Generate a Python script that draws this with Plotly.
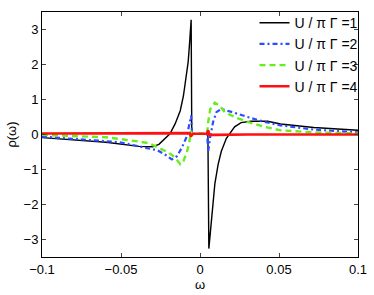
import plotly.graph_objects as go

# U/piGamma = 1 (black)
w1 = [-0.1, -0.08, -0.0595, -0.0386, -0.030, -0.026, -0.022, -0.019, -0.0157, -0.0125,
      -0.0105, -0.0088, -0.0075, -0.0067, -0.0061, -0.0056, -0.0052, 0.0, 0.0050, 0.0056,
      0.0065, 0.0073, 0.0083, 0.0094, 0.0115, 0.0135, 0.0167, 0.0188, 0.0219, 0.026,
      0.0323, 0.0428, 0.051, 0.072, 0.1]
r1 = [-0.09, -0.15, -0.22, -0.34, -0.35, -0.28, -0.12, 0.02, 0.31, 0.68,
      1.10, 1.61, 2.07, 2.54, 3.0, 3.28, 0.02, 0.02, 0.02, -3.26,
      -2.8, -2.43, -1.87, -1.41, -0.85, -0.48, -0.11, 0.03, 0.22, 0.34,
      0.38, 0.38, 0.3, 0.2, 0.12]

# U/piGamma = 2 (blue)
w2 = [-0.1, -0.076, -0.051, -0.0344, -0.027, -0.022, -0.0178, -0.0146, -0.0115, -0.0084,
      -0.0069, -0.0056, -0.0050, 0.0, 0.0045, 0.0052, 0.0063, 0.0083, 0.0104, 0.0135,
      0.0177, 0.024, 0.0302, 0.0407, 0.051, 0.072, 0.1]
r2 = [-0.06, -0.13, -0.22, -0.38, -0.45, -0.58, -0.71, -0.62, -0.38, -0.06,
      0.22, 0.54, 0.02, 0.02, 0.02, -0.48, -0.11, 0.36, 0.64, 0.73,
      0.68, 0.59, 0.50, 0.36, 0.26, 0.14, 0.06]

# U/piGamma = 3 (green)
w3 = [-0.1, -0.0595, -0.0386, -0.0324, -0.0261, -0.0198, -0.0157, -0.0125, -0.0105, -0.0084,
      -0.0069, -0.0056, -0.0050, 0.0, 0.0045, 0.0052, 0.0065, 0.0094, 0.0125, 0.0157,
      0.0219, 0.0302, 0.0407, 0.051, 0.072, 0.1]
r3 = [-0.01, -0.08, -0.2, -0.25, -0.38, -0.52, -0.66, -0.85, -0.76, -0.52,
      -0.25, 0.1, 0.02, 0.02, 0.02, 0.36, 0.73, 0.91, 0.82, 0.64,
      0.50, 0.36, 0.22, 0.12, 0.06, 0.03]

# U/piGamma = 4 (red)
w4 = [-0.1, -0.05, -0.0105, -0.0066, -0.0058, -0.0052, -0.0045, 0.0, 0.0044, 0.0052,
      0.0060, 0.0090, 0.03, 0.1]
r4 = [0.03, 0.04, 0.05, 0.04, -0.06, 0.0, 0.02, 0.02, 0.02, 0.12,
      -0.01, -0.01, 0.0, 0.0]

labels = ["U / \u03c0 \u0393 =1", "U / \u03c0 \u0393 =2", "U / \u03c0 \u0393 =3", "U / \u03c0 \u0393 =4"]
x_ticks = [-0.1, -0.05, 0, 0.05, 0.1]
x_ticktext = ["\u22120.1", "\u22120.05", "0", "0.05", "0.1"]
y_ticks = [-3, -2, -1, 0, 1, 2, 3]
y_ticktext = ["\u22123", "\u22122", "\u22121", "0", "1", "2", "3"]

fig = go.Figure()
fig.add_trace(go.Scatter(x=w1, y=r1, mode="lines", name=labels[0],
                         line=dict(color="black", width=1.4)))
fig.add_trace(go.Scatter(x=w2, y=r2, mode="lines", name=labels[1],
                         line=dict(color="#2a4cff", width=2.2, dash="5px,3px,2px,3px")))
fig.add_trace(go.Scatter(x=w3, y=r3, mode="lines", name=labels[2],
                         line=dict(color="#66ee1a", width=2.4, dash="6px,4px")))
fig.add_trace(go.Scatter(x=w4, y=r4, mode="lines", name=labels[3],
                         line=dict(color="#ff1010", width=2.6)))

font = dict(family="Liberation Sans, Arial, sans-serif", size=13, color="black")
fig.update_layout(
    width=374, height=295,
    margin=dict(l=42, r=12, t=7, b=35),
    paper_bgcolor="white", plot_bgcolor="white",
    font=font,
    showlegend=True,
    legend=dict(x=0.6725, y=1.02, xanchor="left", yanchor="top",
                bgcolor="rgba(0,0,0,0)", font=dict(size=14, family=font["family"]),
                tracegroupgap=0, itemwidth=30),
)
fig.update_xaxes(range=[-0.1, 0.1], tickvals=x_ticks, ticktext=x_ticktext,
                 ticks="inside", ticklen=4, showline=True, linecolor="black", linewidth=1,
                 mirror="allticks", showgrid=False, zeroline=False,
                 title=dict(text="\u03c9", standoff=2, font=dict(size=13)))
fig.update_yaxes(range=[-3.5, 3.5], tickvals=y_ticks, ticktext=y_ticktext,
                 ticks="inside", ticklen=4, showline=True, linecolor="black", linewidth=1,
                 mirror="allticks", showgrid=False, zeroline=False,
                 title=dict(text="\u03c1(\u03c9)", standoff=4, font=dict(size=13)))

fig.write_html("out.html", config={"displayModeBar": False},
               post_script="document.body.style.margin='0';")
